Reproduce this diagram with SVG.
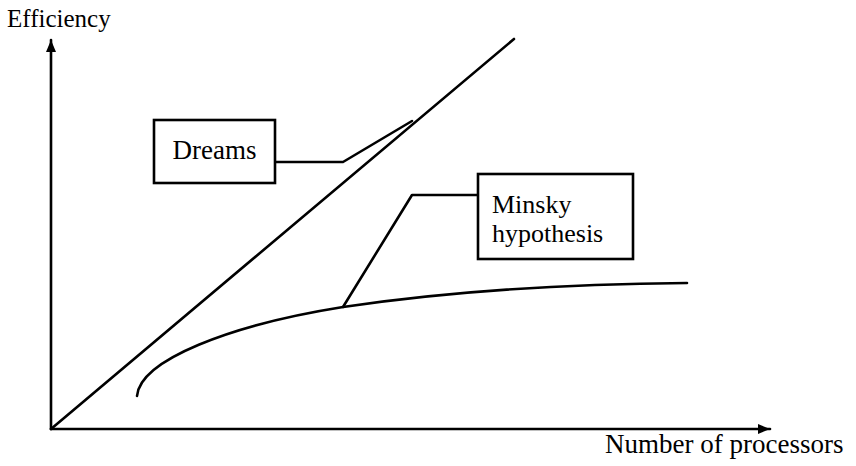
<svg xmlns="http://www.w3.org/2000/svg" width="856" height="466" viewBox="0 0 856 466">
<style>
.ln{fill:none;stroke:#000;stroke-width:2.6;stroke-linecap:round;stroke-linejoin:round}
.box{fill:#fff;stroke:#000;stroke-width:2.6}
.t{font-family:"Liberation Serif","Times New Roman",serif;fill:#000}
</style>
<defs>
<marker id="arr" viewBox="0 0 12 10" refX="12" refY="5" markerWidth="12" markerHeight="10" markerUnits="userSpaceOnUse" orient="auto">
<path d="M0,0 L12,5 L0,10 Z" fill="#000"/>
</marker>
</defs>
<rect width="856" height="466" fill="#fff"/>
<g id="axes">
<line class="ln" x1="51" y1="429" x2="51" y2="40" marker-end="url(#arr)"/>
<line class="ln" x1="51" y1="429" x2="770" y2="429" marker-end="url(#arr)"/>
<text class="t" x="7" y="27" font-size="25">Efficiency</text>
<text class="t" x="605" y="453" font-size="27">Number of processors</text>
</g>
<g id="curves">
<line class="ln" x1="51" y1="429" x2="514" y2="39"/>
<path class="ln" d="M137,396 C140,360 230,325 343,307 C450,291 560,284 687,283"/>
</g>
<g id="connectors">
<polyline class="ln" points="275,162 343,162 412,121"/>
<polyline class="ln" points="478,195 412,195 343,307"/>
</g>
<g id="dreams">
<rect class="box" x="154" y="120" width="121" height="63"/>
<text class="t" x="214.5" y="159" font-size="27" text-anchor="middle">Dreams</text>
</g>
<g id="minsky">
<rect class="box" x="478" y="174" width="155" height="85"/>
<text class="t" x="492" y="213" font-size="26">Minsky</text>
<text class="t" x="492" y="242" font-size="26">hypothesis</text>
</g>
</svg>
